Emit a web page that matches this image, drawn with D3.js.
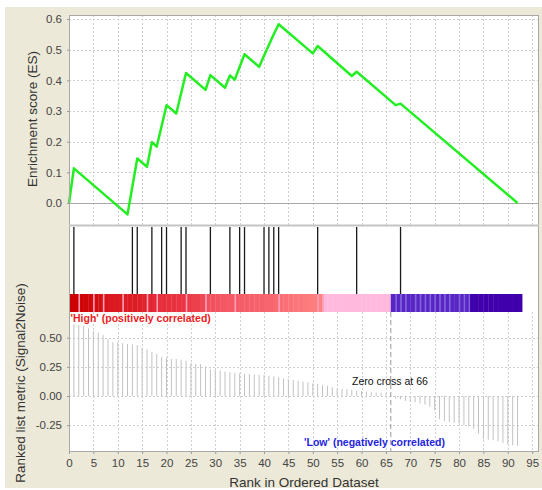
<!DOCTYPE html>
<html><head><meta charset="utf-8">
<script src="https://cdn.jsdelivr.net/npm/d3@7"></script>
<style>
body{margin:0;background:#fff;}
svg{display:block;font-family:"Liberation Sans",Arial,sans-serif;}
</style>
</head><body>
<svg id="chart" width="542" height="490"></svg>
<script>
// ---------- data ----------
const esRanks  = [0, 1, 12, 13, 14, 16, 17, 18, 19, 20, 22, 23, 24, 28, 29, 32, 33, 34, 35, 36, 39, 40, 41, 42, 43, 50, 51, 58, 59, 67, 68, 92];
const esValues = [0, 0.113, -0.037, 0.054, 0.145, 0.118, 0.198, 0.184, 0.251, 0.319, 0.292, 0.358, 0.424, 0.369, 0.417, 0.376, 0.416, 0.402, 0.444, 0.485, 0.444, 0.48, 0.515, 0.55, 0.583, 0.488, 0.512, 0.414, 0.428, 0.319, 0.324, 0.0];
const hitRanks = [1, 13, 14, 17, 19, 20, 23, 24, 29, 33, 35, 36, 40, 41, 42, 43, 51, 59, 68];
// ranked list metric, ranks 1..92
const metricValues = [
  0.614, 0.61, 0.60, 0.58, 0.557, 0.543, 0.523, 0.486, 0.462, 0.46,
  0.452, 0.446, 0.443, 0.437, 0.415, 0.40, 0.38, 0.36, 0.334, 0.33,
  0.317, 0.316, 0.311, 0.303, 0.286, 0.274, 0.274, 0.252, 0.229, 0.223,
  0.217, 0.209, 0.203, 0.20, 0.194, 0.19, 0.189, 0.183, 0.18, 0.18,
  0.172, 0.168, 0.16, 0.15, 0.143, 0.137, 0.129, 0.123, 0.117, 0.109,
  0.103, 0.094, 0.089, 0.076, 0.062, 0.06, 0.058, 0.051, 0.046, 0.043,
  0.037, 0.031, 0.03, 0.028, 0.022, 0.004, -0.023, -0.029, -0.043, -0.049,
  -0.053, -0.063, -0.074, -0.092, -0.124, -0.198, -0.215, -0.224, -0.23, -0.237,
  -0.249, -0.26, -0.281, -0.323, -0.37, -0.374, -0.38, -0.388, -0.403, -0.415,
  -0.423, -0.427
];
const zeroCross = 66;
const xTicks = [0, 5, 10, 15, 20, 25, 30, 35, 40, 45, 50, 55, 60, 65, 70, 75, 80, 85, 90, 95];
const esTicks = [0.0, 0.1, 0.2, 0.3, 0.4, 0.5, 0.6];
const esTickLabels = ["0.0", "0.1", "0.2", "0.3", "0.4", "0.5", "0.6"];
const metricTicks = [-0.25, 0.0, 0.25, 0.5];
const metricTickLabels = ["-0.25", "0.00", "0.25", "0.50"];
const texts = {
  esTitle: "Enrichment score (ES)",
  metricTitle: "Ranked list metric (Signal2Noise)",
  xTitle: "Rank in Ordered Dataset",
  high: "'High' (positively correlated)",
  low: "'Low' (negatively correlated)",
  zero: "Zero cross at 66"
};

// ---------- layout ----------
const L = 69, R = 539;
const esTop = 15, esBot = 225, hitBot = 294, barBot = 312, mBot = 452;

const svg = d3.select("#chart");
svg.append("rect").attr("x", 5).attr("y", 7).attr("width", 537).attr("height", 481).attr("fill", "#ECE9D8");
svg.append("rect").attr("x", L).attr("y", esTop).attr("width", R - L).attr("height", mBot - esTop).attr("fill", "#fff");

const x = d3.scaleLinear().domain([0, 96.4]).range([L, R]);
const yES = d3.scaleLinear().domain([-0.0717, 0.613]).range([esBot, esTop]);
const yM = d3.scaleLinear().domain([-0.48, 0.72]).range([mBot, barBot]);

const gridStyle = s => s.attr("stroke", "#d0d0d0").attr("stroke-width", 1).attr("stroke-dasharray", "2,2").attr("shape-rendering", "crispEdges");

// ES panel grid
const gES = svg.append("g");
gES.selectAll("line.vx").data(xTicks.filter(d => d > 0)).join("line")
  .attr("x1", d => Math.round(x(d)) + 0.5).attr("x2", d => Math.round(x(d)) + 0.5)
  .attr("y1", esTop).attr("y2", esBot).call(gridStyle);
gES.selectAll("line.hy").data(esTicks.filter(d => d !== 0)).join("line")
  .attr("x1", L).attr("x2", R)
  .attr("y1", d => Math.round(yES(d)) + 0.5).attr("y2", d => Math.round(yES(d)) + 0.5).call(gridStyle);
gES.append("line").attr("x1", L).attr("x2", R).attr("y1", Math.round(yES(0)) + 0.5).attr("y2", Math.round(yES(0)) + 0.5)
  .attr("stroke", "#a8a8a8").attr("stroke-width", 1.2);

// metric panel grid
const gM = svg.append("g");
gM.selectAll("line.vx").data(xTicks.filter(d => d > 0)).join("line")
  .attr("x1", d => Math.round(x(d)) + 0.5).attr("x2", d => Math.round(x(d)) + 0.5)
  .attr("y1", barBot).attr("y2", mBot).call(gridStyle);
gM.selectAll("line.hy").data(metricTicks).join("line")
  .attr("x1", L).attr("x2", R)
  .attr("y1", d => Math.round(yM(d)) + 0.5).attr("y2", d => Math.round(yM(d)) + 0.5).call(gridStyle);

// metric bars
const ranks = metricValues.map((v, i) => ({rank: i + 1, v}));
gM.selectAll("line.bar").data(ranks).join("line")
  .attr("x1", d => x(d.rank)).attr("x2", d => x(d.rank))
  .attr("y1", yM(0)).attr("y2", d => yM(d.v))
  .attr("stroke", "#c2c2c2").attr("stroke-width", 1);

// zero cross line
svg.append("line").attr("x1", x(zeroCross)).attr("x2", x(zeroCross))
  .attr("y1", barBot).attr("y2", mBot)
  .attr("stroke", "#9a9a9a").attr("stroke-width", 1).attr("stroke-dasharray", "5,3");

// color bar
const redScale = d3.scaleLinear().domain([0.09, 0.2, 0.32, 0.62]).range(["#ff8484", "#f45a66", "#e8303e", "#cc0000"]);
function cellColor(v) {
  if (v >= 0.092) return redScale(v);
  if (v >= 0) return "#ffb9dd";
  if (v > -0.275) return "#5826c4";
  return "#4000ac";
}
const nCells = ranks.length;
const cellX0 = d => x(d.rank - 1);
const cellX1 = d => d.rank === nCells ? x(nCells + 1) : x(d.rank) + 0.3;
const gBar = svg.append("g");
gBar.selectAll("rect").data(ranks).join("rect")
  .attr("x", cellX0).attr("width", d => cellX1(d) - cellX0(d))
  .attr("y", hitBot).attr("height", barBot - hitBot)
  .attr("fill", d => cellColor(d.v));
// lighter separators between cells where the shade changes
const bin = v => v >= 0.092 ? "r" + Math.floor(v / 0.05) : (v >= 0 ? "p" : (v > -0.275 ? "b" + Math.floor(v / 0.012) : "d"));
const seps = ranks.filter((d, i) => i > 0 && bin(d.v) !== bin(ranks[i - 1].v) && !(d.v < 0 && ranks[i - 1].v >= 0));
gBar.selectAll("line").data(seps).join("line")
  .attr("x1", d => x(d.rank - 1) + 0.5).attr("x2", d => x(d.rank - 1) + 0.5)
  .attr("y1", hitBot).attr("y2", barBot)
  .attr("stroke", d => d.v >= 0 ? "#ff9eb6" : "#8462dc").attr("stroke-width", 1.6);

// hit lines
svg.append("g").selectAll("line").data(hitRanks).join("line")
  .attr("x1", d => x(d)).attr("x2", d => x(d))
  .attr("y1", esBot + 2).attr("y2", hitBot)
  .attr("stroke", "#1a1a1a").attr("stroke-width", 1.3);

// ES curve
const esPts = esRanks.map((r, i) => [r, esValues[i]]);
svg.append("path").datum(esPts)
  .attr("d", d3.line().x(d => x(d[0])).y(d => yES(d[1])))
  .attr("fill", "none").attr("stroke", "#22ee22").attr("stroke-width", 2.5).attr("stroke-linejoin", "round");

// borders
const bc = "#a8a8a8";
svg.append("rect").attr("x", L + 0.5).attr("y", esTop + 0.5).attr("width", R - L - 1).attr("height", mBot - esTop - 1)
  .attr("fill", "none").attr("stroke", bc).attr("stroke-width", 1);
svg.append("line").attr("x1", L).attr("x2", R).attr("y1", esBot + 0.5).attr("y2", esBot + 0.5).attr("stroke", "#c4c4c4").attr("stroke-width", 2);

// axes
const axisColor = "#444";
const esAxis = d3.axisLeft(yES).tickValues(esTicks).tickFormat((d, i) => esTickLabels[i]).tickSize(2).tickPadding(5);
const gEsAxis = svg.append("g").attr("transform", `translate(${L},0)`).call(esAxis);
const mAxis = d3.axisLeft(yM).tickValues(metricTicks).tickFormat((d, i) => metricTickLabels[i]).tickSize(2).tickPadding(5);
const gMAxis = svg.append("g").attr("transform", `translate(${L},0)`).call(mAxis);
const xAxis = d3.axisBottom(x).tickValues(xTicks).tickSize(2).tickPadding(5);
const gXAxis = svg.append("g").attr("transform", `translate(0,${mBot})`).call(xAxis);
[gEsAxis, gMAxis, gXAxis].forEach(g => {
  g.select(".domain").remove();
  g.selectAll(".tick line").attr("stroke", "#999");
  g.selectAll("text").attr("fill", axisColor).attr("font-size", 11.5).attr("font-family", "Liberation Sans, Arial, sans-serif");
});

// titles
svg.append("text").attr("transform", "translate(36.5,119) rotate(-90)").attr("text-anchor", "middle")
  .attr("font-size", 13.5).attr("fill", "#333").text(texts.esTitle);
svg.append("text").attr("transform", "translate(25,383) rotate(-90)").attr("text-anchor", "middle")
  .attr("font-size", 13.5).attr("fill", "#333").text(texts.metricTitle);
svg.append("text").attr("x", (L + R) / 2).attr("y", 487).attr("text-anchor", "middle")
  .attr("font-size", 13.5).attr("fill", "#333").text(texts.xTitle);

// annotations
svg.append("text").attr("x", 70.5).attr("y", 321.5).attr("font-size", 10.5).attr("font-weight", "bold")
  .attr("fill", "#ee1c1c").text(texts.high);
svg.append("text").attr("x", 304).attr("y", 446).attr("font-size", 10.5).attr("font-weight", "bold")
  .attr("fill", "#2424e0").text(texts.low);
svg.append("text").attr("x", 352).attr("y", 385).attr("font-size", 10.5)
  .attr("fill", "#111").text(texts.zero);
</script>
</body></html>
